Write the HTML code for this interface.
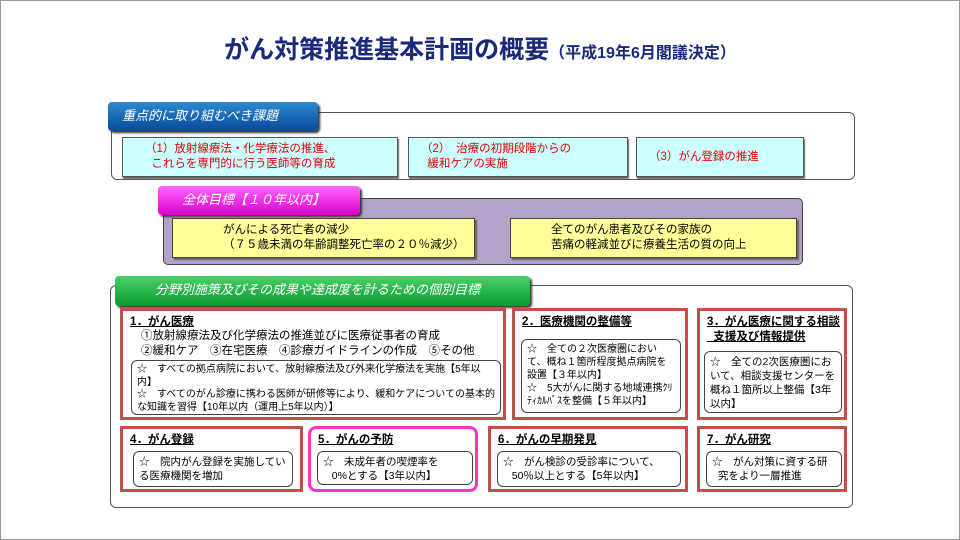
<!DOCTYPE html>
<html><head><meta charset="utf-8"><style>
*{margin:0;padding:0;box-sizing:border-box}
body{width:960px;height:540px;background:#fff;position:relative;overflow:hidden;font-family:"Liberation Sans","Noto Sans CJK JP",sans-serif;color:#000}
.frame{position:absolute;left:0;top:0;width:960px;height:540px;border:1px solid #999}
.a{position:absolute}
.title{left:0;width:960px;top:34px;text-align:center;color:#1a2a7a;font-weight:bold;font-size:25px;line-height:32px}
.title small{font-size:16px}
.rb{border:1px solid #555;border-radius:6px;background:#fff}
.tab{color:#fff;font-style:italic;font-size:13px;padding-left:14px;line-height:28px;border-radius:4px;box-shadow:2px 2px 2px #333}
.scroll{background:#ccffff;border:1px solid #555;box-shadow:1px 2px 1px #666;color:#e00000;font-size:11.5px;line-height:15px;padding:4px 0 0 22px}
.yel{background:#ffff99;border:1px solid #444;box-shadow:2px 2px 1px #666;font-size:11.5px;line-height:15px;padding:4px 0 0 50px}
.red{border:3px solid #c0504d}
.h{font-size:11.5px;font-weight:bold;text-decoration:underline;position:absolute;left:7px;top:4px;line-height:15px}
.in{position:absolute;border:1px solid #444;border-radius:6px;background:#fff;font-size:10.5px;line-height:14px;padding:3px 5px}
</style></head><body>
<div class="frame"></div>
<div class="a title">がん対策推進基本計画の概要<small>（平成19年6月閣議決定）</small></div>

<div class="a rb" style="left:111px;top:112px;width:744px;height:68px"></div>
<div class="a tab" style="left:108px;top:102px;width:210px;height:29px;background:linear-gradient(#2a8ad0,#0a4a9a)">重点的に取り組むべき課題</div>
<div class="a scroll" style="left:122px;top:137px;width:276px;height:40px">（1）放射線療法・化学療法の推進、<br>&nbsp;&nbsp;これらを専門的に行う医師等の育成</div>
<div class="a scroll" style="left:408px;top:137px;width:220px;height:40px;padding-left:12px">（2）　治療の初期段階からの<br>&nbsp;&nbsp;緩和ケアの実施</div>
<div class="a scroll" style="left:636px;top:137px;width:168px;height:40px;padding-top:12px;padding-left:12px">（3）がん登録の推進</div>

<div class="a" style="left:163px;top:198px;width:640px;height:67px;background:#b3a2c7;border:1px solid #444;border-radius:5px"></div>
<div class="a tab" style="left:158px;top:186px;width:202px;height:29px;background:linear-gradient(#ff66ff,#dd00cc);padding-left:24px">全体目標【１０年以内】</div>
<div class="a yel" style="left:172px;top:218px;width:303px;height:40px">がんによる死亡者の減少<br>（７５歳未満の年齢調整死亡率の２０％減少）</div>
<div class="a yel" style="left:510px;top:218px;width:287px;height:40px;padding-left:40px">全てのがん患者及びその家族の<br>苦痛の軽減並びに療養生活の質の向上</div>

<div class="a rb" style="left:110px;top:285px;width:743px;height:223px"></div>
<div class="a tab" style="left:115px;top:276px;width:415px;height:30px;background:linear-gradient(#4ad06a,#0a9a30);padding-left:40px">分野別施策及びその成果や達成度を計るための個別目標</div>

<div class="a red" style="left:120px;top:308px;width:386px;height:112px">
<div class="h">1．がん医療</div>
<div class="a" style="left:18px;top:18px;font-size:11.5px;line-height:15px">①放射線療法及び化学療法の推進並びに医療従事者の育成<br>②緩和ケア　③在宅医療　④診療ガイドラインの作成　⑤その他</div>
<div class="in" style="left:8px;top:49px;width:370px;height:55px;font-size:10px;line-height:12.5px">☆　すべての拠点病院において、放射線療法及び外来化学療法を実施【5年以内】<br>☆　すべてのがん診療に携わる医師が研修等により、緩和ケアについての基本的な知識を習得【10年以内（運用上5年以内）】</div></div>

<div class="a red" style="left:512px;top:308px;width:176px;height:112px">
<div class="h">2．医療機関の整備等</div>
<div class="in" style="left:6px;top:28px;width:160px;height:74px;font-size:10px;line-height:13px">☆　全ての２次医療圏において、概ね１箇所程度拠点病院を設置【３年以内】<br>☆　5大がんに関する地域連携ｸﾘﾃｨｶﾙﾊﾟｽを整備【５年以内】</div></div>

<div class="a red" style="left:697px;top:308px;width:150px;height:112px">
<div class="h">3．がん医療に関する相談<br>&nbsp;&nbsp;支援及び情報提供</div>
<div class="in" style="left:4px;top:40px;width:138px;height:62px">☆　全ての2次医療圏において、相談支援センターを概ね１箇所以上整備【3年以内】</div></div>

<div class="a red" style="left:120px;top:426px;width:183px;height:66px">
<div class="h">4．がん登録</div>
<div class="in" style="left:10px;top:22px;width:160px;height:36px">☆　院内がん登録を実施している医療機関を増加</div></div>

<div class="a" style="left:308px;top:426px;width:170px;height:66px;border:3px solid #ff33cc;border-radius:8px">
<div class="h">5．がんの予防</div>
<div class="in" style="left:6px;top:22px;width:156px;height:34px">☆　未成年者の喫煙率を<br>&nbsp;&nbsp;&nbsp;0%とする【3年以内】</div></div>

<div class="a red" style="left:488px;top:426px;width:200px;height:66px">
<div class="h">6．がんの早期発見</div>
<div class="in" style="left:6px;top:22px;width:184px;height:36px">☆　がん検診の受診率について、<br>&nbsp;&nbsp;&nbsp;50％以上とする【5年以内】</div></div>

<div class="a red" style="left:697px;top:426px;width:150px;height:66px">
<div class="h">7．がん研究</div>
<div class="in" style="left:6px;top:22px;width:136px;height:36px">☆　がん対策に資する研<br>&nbsp;&nbsp;究をより一層推進</div></div>
</body></html>
